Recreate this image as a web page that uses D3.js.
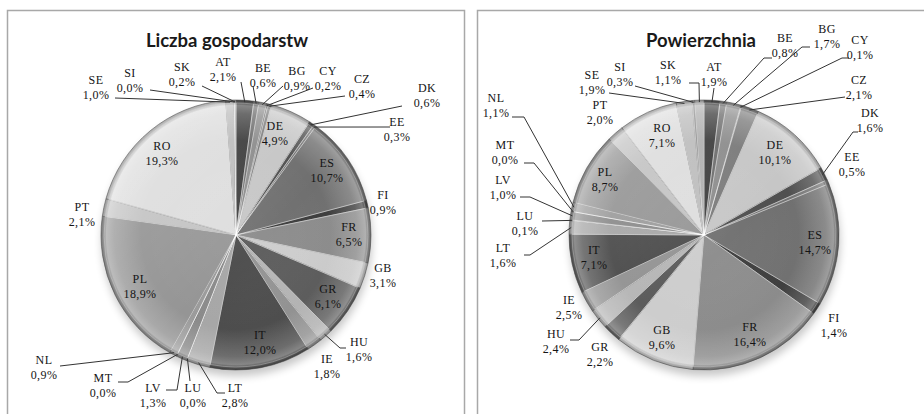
<!DOCTYPE html>
<html>
<head>
<meta charset="utf-8">
<script src="https://cdn.jsdelivr.net/npm/d3@7"></script>
<style>
  body { margin: 0; background: #fff; }
  svg { display: block; }
  .lbl { font-family: "Liberation Serif", "Times New Roman", serif; font-size: 12px; fill: #141414; letter-spacing: 0.4px; }
  .title { font-family: Lato, "Open Sans", sans-serif; font-weight: bold; font-size: 18.5px; fill: #1a1a1a; }
  .lead { fill: none; stroke: #333; stroke-width: 1; }
</style>
</head>
<body>
<svg id="chart" width="924" height="414"></svg>
<script>
// Country codes, clockwise from 12 o'clock
const countries = ["AT","BE","BG","CY","CZ","DE","DK","EE","ES","FI","FR","GB","GR","HU",
                   "IE","IT","LT","LU","LV","MT","NL","PL","PT","RO","SE","SI","SK"];

// Liczba gospodarstw (% share)
const farmsShare = [2.1, 0.6, 0.9, 0.2, 0.4, 4.9, 0.6, 0.3, 10.7, 0.9, 6.5, 3.1, 6.1, 1.6,
                    1.8, 12.0, 2.8, 0.0, 1.3, 0.0, 0.9, 18.9, 2.1, 19.3, 1.0, 0.0, 0.2];

// Powierzchnia (% share)
const areaShare = [1.9, 0.8, 1.7, 0.1, 2.1, 10.1, 1.6, 0.5, 14.7, 1.4, 16.4, 9.6, 2.2, 2.4,
                   2.5, 7.1, 1.6, 0.1, 1.0, 0.0, 1.1, 8.7, 2.0, 7.1, 1.9, 0.3, 1.1];

// Grey shades per country (same in both charts)
const sliceColors = ["#3d3d3d","#6c6c6c","#8c8c8c","#585858","#7a7a7a","#c6c6c6","#4f4f4f",
                     "#727272","#6f6f6f","#3b3b3b","#8b8b8b","#cdcdcd","#5a5a5a","#b5b5b5",
                     "#929292","#4a4a4a","#a6a6a6","#686868","#8a8a8a","#7a7a7a","#9b9b9b",
                     "#959595","#c3c3c3","#dddddd","#bdbdbd","#909090","#b0b0b0"];

// Label placement relative to pie centre (line 1 centre), optional leader points
const farmsLabels = {
  AT: {x: -13, y: -173, lead: [[5, -153]]},
  BE: {x: 27, y: -167, lead: [[17, -149]]},
  BG: {x: 61, y: -164, lead: [[47, -149]]},
  CY: {x: 92, y: -164, lead: [[77, -147]]},
  CZ: {x: 126, y: -156, lead: [[109, -139]]},
  DE: {x: 39, y: -109},
  DK: {x: 191, y: -147, lead: [[166, -129]]},
  EE: {x: 161, y: -113, lead: [[154, -108]]},
  ES: {x: 91, y: -72},
  FI: {x: 147, y: -40},
  FR: {x: 113, y: -8},
  GB: {x: 147, y: 33},
  GR: {x: 92, y: 54},
  HU: {x: 123, y: 107, lead: [[104, 113], [110, 113]]},
  IE: {x: 91, y: 124},
  IT: {x: 24, y: 100},
  LT: {x: -1, y: 153, lead: [[-19, 158], [-11, 158]]},
  LU: {x: -43, y: 153, lead: [[-46, 146]]},
  LV: {x: -83, y: 153, lead: [[-59, 155], [-70, 155]]},
  MT: {x: -133, y: 143, lead: [[-108, 147], [-118, 147]]},
  NL: {x: -192, y: 125, lead: [[-176, 131]]},
  PL: {x: -96, y: 44},
  PT: {x: -154, y: -28},
  RO: {x: -74, y: -89},
  SE: {x: -140, y: -155, lead: [[-121, -137]]},
  SI: {x: -106, y: -162, lead: [[-86, -145]]},
  SK: {x: -54, y: -168, lead: [[-34, -149]]}
};

const areaLabels = {
  AT: {x: 10, y: -168, lead: [[10, -147]]},
  BE: {x: 81, y: -197, lead: [[60, -177], [68, -177]]},
  BG: {x: 123, y: -206, lead: [[98, -188], [106, -188]]},
  CY: {x: 156, y: -195, lead: [[138, -177], [145, -177]]},
  CZ: {x: 155, y: -155, lead: [[141, -138]]},
  DE: {x: 71, y: -90},
  DK: {x: 166, y: -122, lead: [[149, -103], [154, -103]]},
  EE: {x: 148, y: -78},
  ES: {x: 111, y: 0},
  FI: {x: 130, y: 83},
  FR: {x: 46, y: 92},
  GB: {x: -42, y: 95},
  GR: {x: -104, y: 112},
  HU: {x: -148, y: 99, lead: [[-125, 105], [-134, 105]]},
  IE: {x: -135, y: 65},
  IT: {x: -110, y: 15},
  LT: {x: -201, y: 13, lead: [[-174, 20], [-180, 20]]},
  LU: {x: -179, y: -19, lead: [[-162, -14]]},
  LV: {x: -201, y: -55, lead: [[-174, -38], [-184, -38]]},
  MT: {x: -199, y: -90, lead: [[-170, -72], [-180, -72]]},
  NL: {x: -208, y: -137, lead: [[-180, -118], [-192, -118]]},
  PL: {x: -99, y: -63},
  PT: {x: -104, y: -130},
  RO: {x: -42, y: -107},
  SE: {x: -112, y: -160, lead: [[-95, -142]]},
  SI: {x: -84, y: -168, lead: [[-69, -149]]},
  SK: {x: -36, y: -170, lead: [[-5, -152], [-15, -152]]}
};

const panels = [
  {title: "Liczba gospodarstw", values: farmsShare, labels: farmsLabels,
   cx: 236, cy: 235, titleX: 227, frame: {x: 7.5, y: 10.5, w: 457, h: 420}},
  {title: "Powierzchnia", values: areaShare, labels: areaLabels,
   cx: 704, cy: 235, titleX: 701, frame: {x: 477.5, y: 10.5, w: 460, h: 420}}
];

const radius = 135;
const svg = d3.select("#chart");
const defs = svg.append("defs");

// soft shadow under the pie
defs.append("filter").attr("id", "blur").attr("x", "-20%").attr("y", "-20%")
  .attr("width", "140%").attr("height", "140%")
  .append("feGaussianBlur").attr("stdDeviation", 4);

// bevel-like shading over the whole pie
const rg = defs.append("radialGradient").attr("id", "bevel")
  .attr("cx", "50%").attr("cy", "50%").attr("r", "50%");
rg.append("stop").attr("offset", "0%").attr("stop-color", "#fff").attr("stop-opacity", 0.05);
rg.append("stop").attr("offset", "70%").attr("stop-color", "#fff").attr("stop-opacity", 0.0);
rg.append("stop").attr("offset", "90%").attr("stop-color", "#fff").attr("stop-opacity", 0.18);
rg.append("stop").attr("offset", "96%").attr("stop-color", "#fff").attr("stop-opacity", 0.32);
rg.append("stop").attr("offset", "100%").attr("stop-color", "#000").attr("stop-opacity", 0.25);

// light from the upper left
const lg = defs.append("linearGradient").attr("id", "sheen")
  .attr("x1", "0%").attr("y1", "0%").attr("x2", "100%").attr("y2", "100%");
lg.append("stop").attr("offset", "0%").attr("stop-color", "#fff").attr("stop-opacity", 0.18);
lg.append("stop").attr("offset", "55%").attr("stop-color", "#fff").attr("stop-opacity", 0.0);
lg.append("stop").attr("offset", "100%").attr("stop-color", "#000").attr("stop-opacity", 0.12);

const pie = d3.pie().sort(null).value(d => d.value);
const arc = d3.arc().innerRadius(0).outerRadius(radius);
const innerArc = d3.arc().innerRadius(0).outerRadius(radius - 3);

const fmt = v => v.toFixed(1).replace(".", ",") + "%";

panels.forEach(p => {
  // frame
  svg.append("rect")
    .attr("x", p.frame.x).attr("y", p.frame.y)
    .attr("width", p.frame.w).attr("height", p.frame.h)
    .attr("fill", "none").attr("stroke", "#a8a8a8").attr("stroke-width", 1.5);

  svg.append("text").attr("class", "title")
    .attr("x", p.titleX).attr("y", 47)
    .attr("text-anchor", "middle")
    .text(p.title);

  const data = countries.map((c, i) => ({code: c, value: p.values[i], color: sliceColors[i]}));
  const arcs = pie(data);

  const g = svg.append("g").attr("transform", `translate(${p.cx},${p.cy})`);

  g.append("circle").attr("cx", 1).attr("cy", 6).attr("r", radius)
    .attr("fill", "#000").attr("opacity", 0.22).attr("filter", "url(#blur)");

  g.selectAll(".slice")
    .data(arcs)
    .enter()
    .append("path")
    .attr("class", "slice")
    .attr("d", arc)
    .attr("fill", d => d.data.color)
    .attr("stroke", "#5a5a5a")
    .attr("stroke-width", 0.6);

  // inner highlight edge of each slice
  g.selectAll(".hl")
    .data(arcs)
    .enter()
    .append("path")
    .attr("class", "hl")
    .attr("d", innerArc)
    .attr("fill", "none")
    .attr("stroke", "#fff")
    .attr("stroke-opacity", 0.35)
    .attr("stroke-width", 1);

  g.append("circle").attr("r", radius).attr("fill", "url(#sheen)");
  g.append("circle").attr("r", radius).attr("fill", "url(#bevel)");

  // leader lines
  arcs.forEach(d => {
    const lab = p.labels[d.data.code];
    if (!lab || !lab.lead) return;
    const a = (d.startAngle + d.endAngle) / 2;
    const start = [Math.sin(a) * (radius - 2), -Math.cos(a) * (radius - 2)];
    g.append("path").attr("class", "lead")
      .attr("d", d3.line()([start, ...lab.lead]));
  });

  // labels
  arcs.forEach(d => {
    const lab = p.labels[d.data.code];
    const t = g.append("text").attr("class", "lbl").attr("text-anchor", "middle");
    t.append("tspan").attr("x", lab.x).attr("y", lab.y).attr("dy", "0.35em").text(d.data.code);
    t.append("tspan").attr("x", lab.x).attr("y", lab.y + 15).attr("dy", "0.35em").text(fmt(d.data.value));
  });
});
</script>
</body>
</html>
